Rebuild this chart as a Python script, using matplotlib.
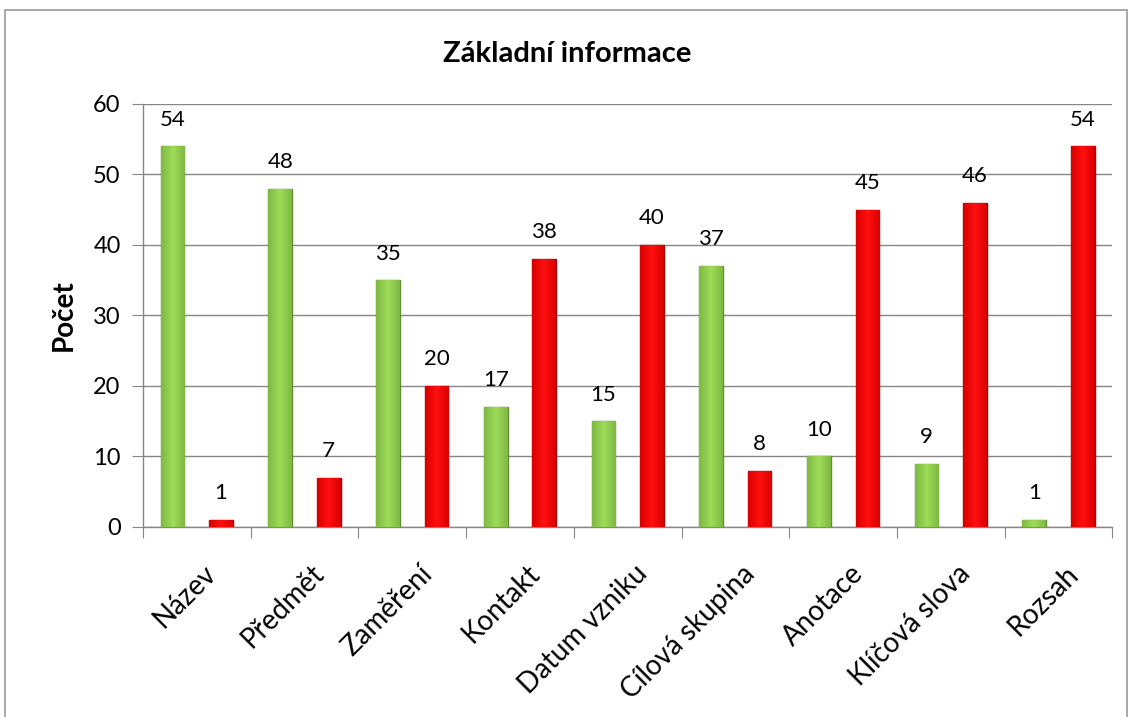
import matplotlib
matplotlib.use("Agg")
from matplotlib import pyplot as plt
from matplotlib.patches import Rectangle
from matplotlib.colors import LinearSegmentedColormap
import numpy as np

plt.rcParams['font.family'] = ['Lato', 'DejaVu Sans']

categories = ["Název", "Předmět", "Zaměření", "Kontakt", "Datum vzniku",
              "Cílová skupina", "Anotace", "Klíčová slova", "Rozsah"]
green_vals = [54, 48, 35, 17, 15, 37, 10, 9, 1]
red_vals = [1, 7, 20, 38, 40, 8, 45, 46, 54]

fig = plt.figure(figsize=(11.34, 7.17), dpi=100)
ax = fig.add_axes([0.126, 0.265, 0.855, 0.590])

x = np.arange(len(categories))
w = 0.22
off = 0.225
b1 = ax.bar(x - off, green_vals, w, color='#92d050', edgecolor='#5f8f30', linewidth=1.0, zorder=3)
b2 = ax.bar(x + off, red_vals, w, color='#ff0000', edgecolor='#a80000', linewidth=1.0, zorder=3)

# soft horizontal shading inside each bar
grad = np.abs(np.linspace(-1, 1, 50))[None, :]
cm_g = LinearSegmentedColormap.from_list('g', ['#9ddc58', '#7fb843'])
cm_r = LinearSegmentedColormap.from_list('r', ['#ff1010', '#d80000'])
for bars, cm in ((b1, cm_g), (b2, cm_r)):
    for b in bars:
        x0, y0 = b.get_x(), b.get_y()
        im = ax.imshow(grad, cmap=cm, aspect='auto', zorder=3.5,
                       extent=(x0, x0 + b.get_width(), y0, y0 + b.get_height()))
        im.set_clip_path(b)

for bars, vals in ((b1, green_vals), (b2, red_vals)):
    for b, v in zip(bars, vals):
        ax.annotate(str(v), (b.get_x() + b.get_width() / 2, v), xytext=(0, 12),
                    textcoords='offset points', ha='center', va='bottom', fontsize=16)

ax.set_xlim(-0.5, len(categories) - 0.5)
ax.set_ylim(0, 60)
ax.set_yticks(range(0, 61, 10))
ax.yaxis.grid(True, color='#868686', linewidth=1.0, zorder=0)
ax.set_axisbelow(True)

ax.set_xticks(np.arange(len(categories) + 1) - 0.5, minor=False)
ax.set_xticklabels([])
ax.set_xticks(x + 0.06, minor=True)
ax.set_xticklabels(categories, minor=True, rotation=45, ha='right', rotation_mode='anchor', fontsize=20)
ax.tick_params(axis='x', which='major', length=8, color='#868686', direction='out')
ax.tick_params(axis='x', which='minor', length=0, pad=24)
ax.tick_params(axis='y', length=8, color='#868686', labelsize=17, pad=8)

for s in ('top', 'right'):
    ax.spines[s].set_visible(False)
for s in ('left', 'bottom'):
    ax.spines[s].set_color('#868686')
    ax.spines[s].set_linewidth(1.0)

ax.set_ylabel("Počet", fontsize=20, fontweight='bold', labelpad=12)
fig.text(0.5, 0.925, "Základní informace", ha='center', va='center', fontsize=21, fontweight='bold')

fig.patches.append(Rectangle((5 / 1134, -0.1), 1122 / 1134, 1.1 - 10 / 717, transform=fig.transFigure,
                             fill=False, edgecolor='#9a9a9a', linewidth=1.2))

fig.savefig("out.png", dpi=100)
